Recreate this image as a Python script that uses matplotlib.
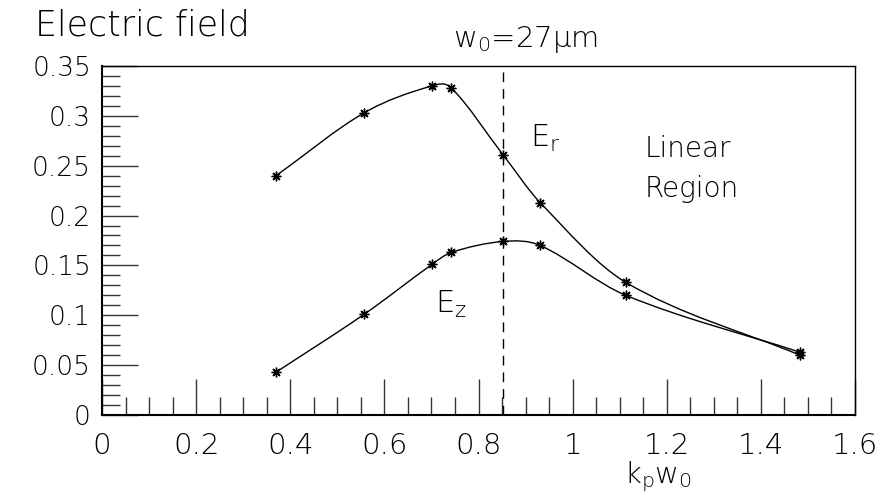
import matplotlib
matplotlib.use('Agg')
import matplotlib.pyplot as plt
import numpy as np
from matplotlib.path import Path
from matplotlib.patches import PathPatch
from matplotlib.ticker import MultipleLocator

# data
kp_w0 = [0.370, 0.557, 0.701, 0.742, 0.852, 0.931, 1.113, 1.483]
e_r = [0.240, 0.303, 0.330, 0.328, 0.261, 0.213, 0.133, 0.060]
e_z = [0.043, 0.101, 0.151, 0.163, 0.174, 0.170, 0.120, 0.063]
w0_line = 0.852

plt.rcParams['font.family'] = ['DejaVu Sans']
plt.rcParams['font.weight'] = 200
plt.rcParams['mathtext.fontset'] = 'custom'
plt.rcParams['mathtext.rm'] = 'DejaVu Sans:weight=200'
plt.rcParams['mathtext.it'] = 'DejaVu Sans:oblique:weight=400'
FW = 200


def smooth_path(x, y):
    """Cubic Hermite curve (x as parameter) through the points, as Bezier segments."""
    x = np.asarray(x, float)
    y = np.asarray(y, float)
    m = np.empty_like(y)
    m[1:-1] = (y[2:] - y[:-2]) / (x[2:] - x[:-2])
    m[0] = (y[1] - y[0]) / (x[1] - x[0])
    m[-1] = (y[-1] - y[-2]) / (x[-1] - x[-2])
    verts = [(x[0], y[0])]
    codes = [Path.MOVETO]
    for i in range(len(x) - 1):
        h = x[i + 1] - x[i]
        verts += [(x[i] + h / 3, y[i] + m[i] * h / 3),
                  (x[i + 1] - h / 3, y[i + 1] - m[i + 1] * h / 3),
                  (x[i + 1], y[i + 1])]
        codes += [Path.CURVE4] * 3
    return Path(verts, codes)


fig = plt.figure(figsize=(8.81, 4.96), dpi=100)
ax = fig.add_axes([0.1158, 0.1633, 0.8547, 0.7037])
ax.set_xlim(0, 1.6)
ax.set_ylim(0, 0.35)

for series in (e_r, e_z):
    ax.add_patch(PathPatch(smooth_path(kp_w0, series), fill=False, lw=1.0, color='black'))
    ax.plot(kp_w0, series, ls='none', marker=(8, 2, 0), ms=7, mew=1.0, color='black')

ax.axvline(w0_line, color='black', lw=1.0, ls=(0, (7, 5)))

for side in ('top', 'right'):
    ax.spines[side].set_linewidth(1.0)
for side in ('left', 'bottom'):
    ax.spines[side].set_linewidth(1.5)

ax.xaxis.set_major_locator(MultipleLocator(0.2))
ax.xaxis.set_minor_locator(MultipleLocator(0.05))
ax.yaxis.set_major_locator(MultipleLocator(0.05))
ax.yaxis.set_minor_locator(MultipleLocator(0.01))
ax.tick_params(which='both', direction='in', top=False, right=False, width=1.0, color='#333333')
ax.tick_params(which='major', length=26)
ax.tick_params(which='minor', length=13)
ax.tick_params(axis='x', which='major', pad=12, labelsize=21)
ax.tick_params(axis='y', which='major', pad=8, labelsize=19)
ax.set_xticks([0, 0.2, 0.4, 0.6, 0.8, 1.0, 1.2, 1.4, 1.6])
ax.set_xticklabels(['0', '0.2', '0.4', '0.6', '0.8', '1', '1.2', '1.4', '1.6'], fontweight=FW)
ax.set_yticks([0, 0.05, 0.1, 0.15, 0.2, 0.25, 0.3, 0.35])
ax.set_yticklabels(['0', '0.05', '0.1', '0.15', '0.2', '0.25', '0.3', '0.35'], fontweight=FW)

fig.text(0.040, 0.929, 'Electric field', fontsize=25, fontweight=FW, ha='left', va='baseline')
fig.text(0.596, 0.905, r'w$_0$=27μm', fontsize=21, fontweight=FW, ha='center', va='baseline')
fig.text(0.747, 0.026, r'k$_\mathregular{p}$w$_0$', fontsize=21, fontweight=FW, ha='center', va='baseline')

ax.text(0.909, 0.269, r'E$_\mathregular{r}$', fontsize=22, fontweight=FW)
ax.text(0.708, 0.102, r'E$_\mathregular{z}$', fontsize=22, fontweight=FW)
ax.text(1.154, 0.259, 'Linear', fontsize=20, fontweight=FW)
ax.text(1.154, 0.219, 'Region', fontsize=20, fontweight=FW)

fig.savefig('out.png', dpi=100)
